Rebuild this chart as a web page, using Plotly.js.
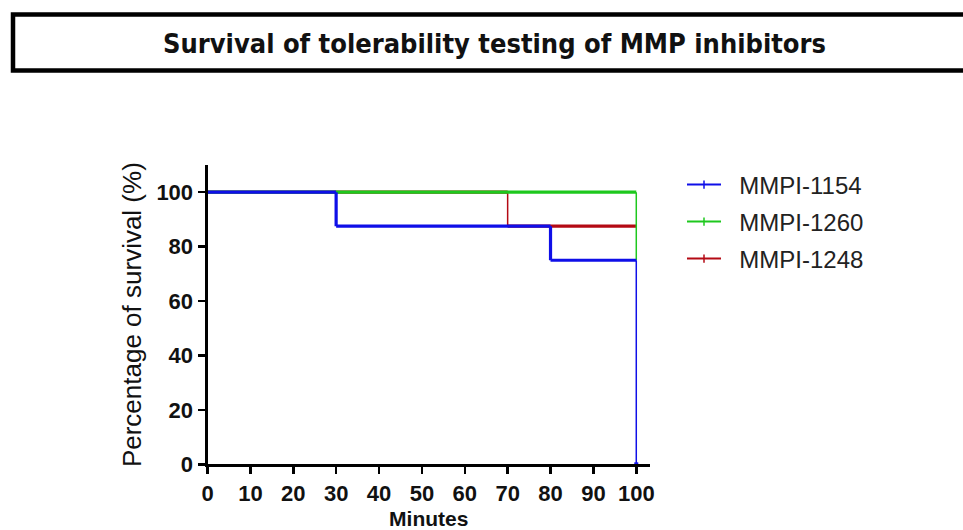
<!DOCTYPE html>
<html>
<head>
<meta charset="utf-8">
<script src="https://cdn.plot.ly/plotly-3.0.1.min.js"></script>
<style>html,body{margin:0;padding:0;background:#fff;}#chart{width:963px;height:530px;}</style>
</head>
<body>
<div id="chart"></div>
<script>
// ---- data ----
const seriesNames = ["MMPI-1154", "MMPI-1260", "MMPI-1248"];
const minutes1154 = [0, 30, 80, 100];
const survival1154 = [100, 87.5, 75, 0];
const minutes1260 = [0, 100];
const survival1260 = [100, 75];
const minutes1248 = [0, 70, 100];
const survival1248 = [100, 87.5, 87.5];
const censorMinutes1154 = [100];
const censorSurvival1154 = [0];
const xTickVals = [0, 10, 20, 30, 40, 50, 60, 70, 80, 90, 100];
const yTickVals = [0, 20, 40, 60, 80, 100];

// ---- styles ----
const colors = {"MMPI-1154": "#0f0fe8", "MMPI-1260": "#1ec81e", "MMPI-1248": "#b40a14"};
const hWidth = 3.2;
const dropWidths = {"MMPI-1154": [3.2, 3.2, 1.5], "MMPI-1260": [1.5], "MMPI-1248": [1.5, 1.5]};
const legendIds = {"MMPI-1154": "legend", "MMPI-1260": "legend2", "MMPI-1248": "legend3"};

const series = {
  "MMPI-1154": [minutes1154, survival1154],
  "MMPI-1260": [minutes1260, survival1260],
  "MMPI-1248": [minutes1248, survival1248]
};

function curveTraces(name) {
  const t = series[name][0], s = series[name][1];
  const hx = [], hy = [];
  const out = [];
  for (let i = 0; i < t.length - 1; i++) {
    hx.push(t[i], t[i + 1], null);
    hy.push(s[i], s[i], null);
  }
  out.push({x: hx, y: hy, type: "scatter", mode: "lines", showlegend: false, hoverinfo: "skip",
    line: {color: colors[name], width: hWidth}});
  for (let i = 0; i < t.length - 1; i++) {
    if (s[i + 1] !== s[i]) {
      out.push({x: [t[i + 1], t[i + 1]], y: [s[i], s[i + 1]], type: "scatter", mode: "lines",
        showlegend: false, hoverinfo: "skip",
        line: {color: colors[name], width: dropWidths[name][i]}});
    }
  }
  return out;
}

let traces = [];
["MMPI-1248", "MMPI-1260", "MMPI-1154"].forEach(n => { traces = traces.concat(curveTraces(n)); });
traces.push({x: censorMinutes1154, y: censorSurvival1154, type: "scatter", mode: "markers", showlegend: false,
  marker: {symbol: "square", size: 4, color: colors["MMPI-1154"]}, cliponaxis: false});
// legend entries
seriesNames.forEach(n => {
  traces.push({x: [null], y: [null], type: "scatter", mode: "lines+markers", name: "\u00A0\u00A0" + n, legend: legendIds[n],
    line: {color: colors[n], width: 2},
    marker: {symbol: "line-ns", size: 6, line: {color: colors[n], width: 1.5}}});
});

const W = 963, H = 530;
const px = v => v / W, py = v => 1 - v / H;
const legendFont = {family: "Liberation Sans, Arial, sans-serif", size: 24, color: "#222"};
function legendAt(yc) {
  return {x: px(682), y: py(yc), xanchor: "left", yanchor: "middle", bgcolor: "rgba(0,0,0,0)",
    borderwidth: 0, font: legendFont, itemwidth: 34};
}
const axFont = {family: "Liberation Sans, Arial, sans-serif", size: 22, color: "#111", weight: "bold"};

const layout = {
  width: W, height: H,
  margin: {l: 0, r: 0, t: 0, b: 0},
  paper_bgcolor: "#fff", plot_bgcolor: "#fff",
  showlegend: true,
  legend: legendAt(185), legend2: legendAt(222), legend3: legendAt(259),
  xaxis: {
    domain: [px(207.5), px(650)], range: [0, 103.2],
    tickvals: xTickVals, ticks: "outside", ticklen: 7, tickwidth: 2.5, tickcolor: "#000",
    showline: true, linecolor: "#000", linewidth: 3, showgrid: false, zeroline: false,
    tickfont: axFont,
    title: {text: "Minutes", standoff: 8, font: {family: "Liberation Sans, Arial, sans-serif", size: 21, color: "#111", weight: "bold"}}
  },
  yaxis: {
    domain: [1 - 464.3 / H, 1 - 165 / H], range: [0, 110],
    tickvals: yTickVals, ticks: "outside", ticklen: 7, tickwidth: 2.5, tickcolor: "#000",
    showline: true, linecolor: "#000", linewidth: 3, showgrid: false, zeroline: false,
    tickfont: axFont,
    title: {text: "Percentage of survival (%)", standoff: 8, font: {family: "Liberation Sans, Arial, sans-serif", size: 26, color: "#111"}}
  },
  shapes: [{type: "rect", xref: "paper", yref: "paper", x0: px(13), x1: px(975), y0: py(14.5), y1: py(70.5),
    line: {color: "#000", width: 4.5}, fillcolor: "rgba(0,0,0,0)"}],
  annotations: [{text: "Survival of tolerability testing of MMP inhibitors", xref: "paper", yref: "paper",
    x: px(494), y: py(44), xanchor: "center", yanchor: "middle", showarrow: false,
    font: {family: "Liberation Sans Narrow, DejaVu Sans Condensed, sans-serif", size: 27, color: "#111", weight: "bold"}}]
};

Plotly.newPlot("chart", traces, layout, {displayModeBar: false, staticPlot: true});
</script>
</body>
</html>
